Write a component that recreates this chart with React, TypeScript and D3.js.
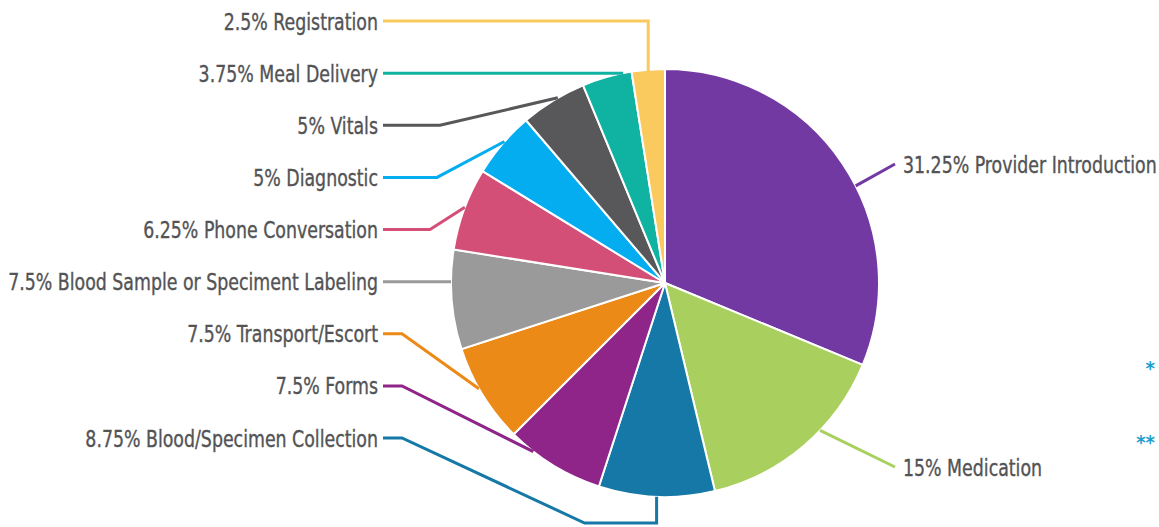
import React from 'react';
import * as d3 from 'd3';

// slices, clockwise from 12 o'clock
const categories = [
  'Provider Introduction',
  'Medication',
  'Blood/Specimen Collection',
  'Forms',
  'Transport/Escort',
  'Blood Sample or Speciment Labeling',
  'Phone Conversation',
  'Diagnostic',
  'Vitals',
  'Meal Delivery',
  'Registration'
];
const shares = [31.25, 15, 8.75, 7.5, 7.5, 7.5, 6.25, 5, 5, 3.75, 2.5];
const sliceColors = [
  '#7239a3', '#a9d05f', '#1578a7', '#8f2489', '#ec8a18', '#9a9a9a',
  '#d44f77', '#03adef', '#58585a', '#10b3a1', '#fbca5e'
];
const footnoteMarks = ['*', '**'];

// label layout (not data): row = left column slot, at = where along the slice the leader lands
const leaders: any[] = [
  { side: 'right', y: 164, at: 0.56, route: 'straight' },
  { side: 'right', y: 467, at: 0.39, route: 'straight' },
  { side: 'left', row: 8, at: 0.5, route: 'under', elbowX: 402 },
  { side: 'left', row: 7, at: 0.74, route: 'elbow', elbowX: 402 },
  { side: 'left', row: 6, at: 0.57, route: 'elbow', elbowX: 402 },
  { side: 'left', row: 5, at: 0.5, route: 'flat' },
  { side: 'left', row: 4, at: 0.52, route: 'elbow', elbowX: 430 },
  { side: 'left', row: 3, at: 0.55, route: 'elbow', elbowX: 437 },
  { side: 'left', row: 2, at: 0.58, route: 'elbow', elbowX: 440 },
  { side: 'left', row: 1, at: 0.5, route: 'flat' },
  { side: 'left', row: 0, at: 0.5, route: 'vertical' }
];

const W = 1159;
const H = 527;
const cx = 665;
const cy = 283;
const R = 214;
const leftTextX = 378;
const rightTextX = 903;
const squeeze = 0.84; // the original face is a condensed DIN-like font
const rowY = d3.scaleLinear().domain([0, 8]).range([21, 438]);
const FONT = '"DejaVu Sans Condensed", "DejaVu Sans", sans-serif';

export default function App() {
  const pie = d3.pie<number>().sort(null).value((d) => d);
  const arcs = pie(shares);
  const arc = d3.arc<d3.PieArcDatum<number>>().innerRadius(0).outerRadius(R);

  const edge = (a: number, r = R): [number, number] => [r * Math.sin(a), -r * Math.cos(a)];

  const leaderPath = (i: number) => {
    const a = arcs[i];
    const L = leaders[i];
    const ang = a.startAngle + (a.endAngle - a.startAngle) * L.at;
    const [ex, ey] = edge(ang);
    const line = d3.line();
    if (L.side === 'right') {
      return line([[ex, ey], [rightTextX - 8 - cx, L.y - cy]]);
    }
    const ly = rowY(L.row) - cy;
    const sx = leftTextX + 5 - cx;
    if (L.route === 'flat') {
      const fx = -Math.sqrt(R * R - ly * ly);
      return line([[sx, ly], [fx, ly]]);
    }
    if (L.route === 'vertical') {
      return line([[sx, ly], [ex, ly], [ex, ey + 2]]);
    }
    if (L.route === 'under') {
      const by = R + 26;
      return line([[sx, ly], [L.elbowX - cx, ly], [ex - 72, by], [ex, by], [ex, ey]]);
    }
    return line([[sx, ly], [L.elbowX - cx, ly], [ex, ey]]);
  };

  return (
    <div style={{ position: 'fixed', left: 0, top: 0 }}>
      <svg width={W} height={H} viewBox={`0 0 ${W} ${H}`} style={{ display: 'block', background: '#fff' }}>
        <g transform={`translate(${cx},${cy})`}>
          {arcs.map((d, i) => (
            <path key={`s-${i}`} d={arc(d)} fill={sliceColors[i]} stroke="#fff" strokeWidth={2} strokeLinejoin="round" />
          ))}
          {arcs.map((d, i) => (
            <path
              key={`l-${i}`}
              d={leaderPath(i)}
              fill="none"
              stroke={sliceColors[i]}
              strokeWidth={3}
              strokeLinejoin="miter"
            />
          ))}
        </g>
        {categories.map((c, i) => {
          const L = leaders[i];
          const right = L.side === 'right';
          const y = right ? L.y : rowY(L.row);
          return (
            <g key={`t-${i}`} transform={`translate(${right ? rightTextX : leftTextX},${y}) scale(${squeeze},1)`}>
              <text
                dy="0.37em"
                textAnchor={right ? 'start' : 'end'}
                fontFamily={FONT}
                fontSize={23}
                fill="#535355"
                stroke="#535355"
                strokeWidth={0.35}
              >{`${shares[i]}% ${c}`}</text>
            </g>
          );
        })}
        {footnoteMarks.map((m, i) => (
          <text
            key={`f-${i}`}
            x={1155}
            y={i === 0 ? 375 : 449}
            textAnchor="end"
            fontFamily={FONT}
            fontWeight="bold"
            fontSize={20}
            fill="#1ba0cf"
          >{m}</text>
        ))}
      </svg>
    </div>
  );
}
